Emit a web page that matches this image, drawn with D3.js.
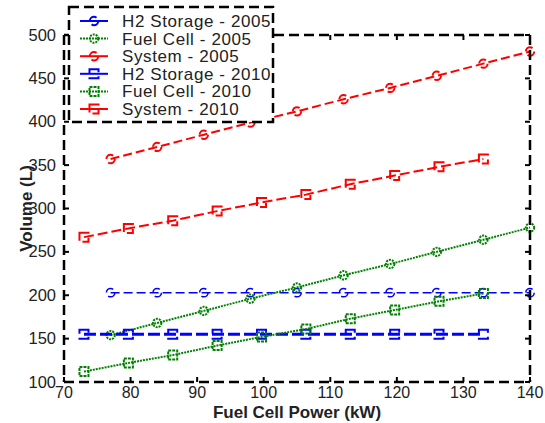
<!DOCTYPE html>
<html>
<head>
<meta charset="utf-8">
<script src="https://cdn.jsdelivr.net/npm/d3@7"></script>
<style>
  html, body { margin: 0; padding: 0; background: #fff; }
  svg { display: block; font-family: Arial, "Liberation Sans", Helvetica, sans-serif; }
</style>
</head>
<body>
<svg id="chart" width="545" height="423"></svg>
<script>
// Fuel cell power (kW) at which each configuration was evaluated
const power2005 = [77, 84, 91, 98, 105, 112, 119, 126, 133, 140];
const power2010 = [73, 79.67, 86.33, 93, 99.67, 106.33, 113, 119.67, 126.33, 133];

// Component volumes (L)
const h2Storage2005 = [203, 203, 203, 203, 203, 203, 203, 203, 203, 203];
const fuelCell2005  = [154, 168, 182, 196, 209, 223, 236, 250, 264, 278];
const system2005    = [357, 371, 385, 399, 412, 426, 439, 453, 467, 481];
const h2Storage2010 = [155, 155, 155, 155, 155, 155, 155, 155, 155, 155];
const fuelCell2010  = [112, 122, 131, 142, 152, 161, 173, 183, 193, 202];
const system2010    = [267, 277, 286, 297, 307, 316, 328, 338, 348, 357];

// Axis ticks
const xTicks = [70, 80, 90, 100, 110, 120, 130, 140];
const yTicks = [100, 150, 200, 250, 300, 350, 400, 450, 500];

const series = [
  { name: "H2 Storage - 2005", x: power2005, y: h2Storage2005, color: "#0000ff", width: 1.5, dash: "9,4", marker: "circle" },
  { name: "Fuel Cell - 2005",  x: power2005, y: fuelCell2005,  color: "#008000", width: 2,   dash: "2,1", marker: "circle" },
  { name: "System - 2005",     x: power2005, y: system2005,    color: "#ff0000", width: 2,   dash: "9,4", marker: "circle" },
  { name: "H2 Storage - 2010", x: power2010, y: h2Storage2010, color: "#0000ff", width: 3,   dash: "12,4", marker: "square" },
  { name: "Fuel Cell - 2010",  x: power2010, y: fuelCell2010,  color: "#008000", width: 2,   dash: "2,1", marker: "square" },
  { name: "System - 2010",     x: power2010, y: system2010,    color: "#ff0000", width: 2,   dash: "10,4", marker: "square" }
];

const svg = d3.select("#chart");
const plot = { left: 64, right: 530, top: 35, bottom: 382 };

const x = d3.scaleLinear().domain([70, 140]).range([plot.left, plot.right]);
const y = d3.scaleLinear().domain([100, 500]).range([plot.bottom, plot.top]);

// Data lines
const line = d3.line().x(d => d[0]).y(d => d[1]);
const g = svg.append("g");

function drawMarker(sel, kind, cx, cy) {
  if (kind === "circle") {
    return sel.append("circle").attr("cx", cx).attr("cy", cy).attr("r", 4.2);
  }
  return sel.append("rect").attr("x", cx - 4.5).attr("y", cy - 4.5).attr("width", 9).attr("height", 9);
}

series.forEach(s => {
  const pts = s.x.map((v, i) => [x(v), y(s.y[i])]);
  g.append("path")
    .attr("d", line(pts))
    .attr("fill", "none")
    .attr("stroke", s.color)
    .attr("stroke-width", s.width)
    .attr("stroke-dasharray", s.dash);
  pts.forEach(p => {
    drawMarker(g, s.marker, p[0], p[1])
      .attr("fill", "none")
      .attr("stroke", s.color)
      .attr("stroke-width", Math.min(s.width, 2))
      .attr("stroke-dasharray", s.marker === "square" && s.dash === "2,1" ? "3,1" : s.dash);
  });
});

// Frame with ticks on all four sides
const frame = svg.append("g").attr("stroke", "#000").attr("fill", "none");
const dash = "10,5";
[[plot.left, plot.bottom, plot.right, plot.bottom],
 [plot.left, plot.top, plot.right, plot.top],
 [plot.left, plot.top, plot.left, plot.bottom],
 [plot.right, plot.top, plot.right, plot.bottom]].forEach(([x1, y1, x2, y2]) => {
  frame.append("line").attr("x1", x1).attr("y1", y1).attr("x2", x2).attr("y2", y2)
    .attr("stroke-width", 2.5).attr("stroke-dasharray", dash);
});

const tl = 5;
xTicks.forEach(t => {
  frame.append("line").attr("x1", x(t)).attr("x2", x(t)).attr("y1", plot.bottom).attr("y2", plot.bottom - tl).attr("stroke-width", 2);
  frame.append("line").attr("x1", x(t)).attr("x2", x(t)).attr("y1", plot.top).attr("y2", plot.top + tl).attr("stroke-width", 2);
});
yTicks.forEach(t => {
  frame.append("line").attr("x1", plot.left).attr("x2", plot.left + tl).attr("y1", y(t)).attr("y2", y(t)).attr("stroke-width", 2);
  frame.append("line").attr("x1", plot.right).attr("x2", plot.right - tl).attr("y1", y(t)).attr("y2", y(t)).attr("stroke-width", 2);
});

// Tick labels
svg.append("g").selectAll("text").data(xTicks).join("text")
  .attr("x", d => x(d)).attr("y", 398)
  .attr("text-anchor", "middle").attr("font-size", 16).attr("fill", "#222")
  .text(d => d);
svg.append("g").selectAll("text").data(yTicks).join("text")
  .attr("x", 56).attr("y", d => y(d) + 5.5)
  .attr("text-anchor", "end").attr("font-size", 16.5).attr("fill", "#222")
  .text(d => d);

// Axis titles
svg.append("text")
  .attr("x", (plot.left + plot.right) / 2).attr("y", 418)
  .attr("text-anchor", "middle").attr("font-size", 17).attr("font-weight", "bold").attr("fill", "#222")
  .text("Fuel Cell Power (kW)");
svg.append("text")
  .attr("transform", `translate(32,${(plot.top + plot.bottom) / 2}) rotate(-90)`)
  .attr("text-anchor", "middle").attr("font-size", 17).attr("font-weight", "bold").attr("fill", "#222")
  .text("Volume (L)");

// Legend
const lg = svg.append("g");
lg.append("rect").attr("x", 69).attr("y", 7).attr("width", 204).attr("height", 115)
  .attr("fill", "#fff").attr("stroke", "#000").attr("stroke-width", 2.5).attr("stroke-dasharray", dash);
series.forEach((s, i) => {
  const cy = 21 + i * 17.6;
  lg.append("line").attr("x1", 80).attr("x2", 108).attr("y1", cy).attr("y2", cy)
    .attr("stroke", s.color).attr("stroke-width", 2)
    .attr("stroke-dasharray", s.dash === "2,1" ? "2,1" : null);
  drawMarker(lg, s.marker, 94, cy)
    .attr("fill", "none").attr("stroke", s.color).attr("stroke-width", 2)
    .attr("stroke-dasharray", s.marker === "square" && s.dash === "2,1" ? "3,1" : s.dash);
  lg.append("text").attr("x", 122).attr("y", cy + 6)
    .attr("font-size", 17).attr("letter-spacing", 0.6).attr("fill", "#222").text(s.name);
});
</script>
</body>
</html>
